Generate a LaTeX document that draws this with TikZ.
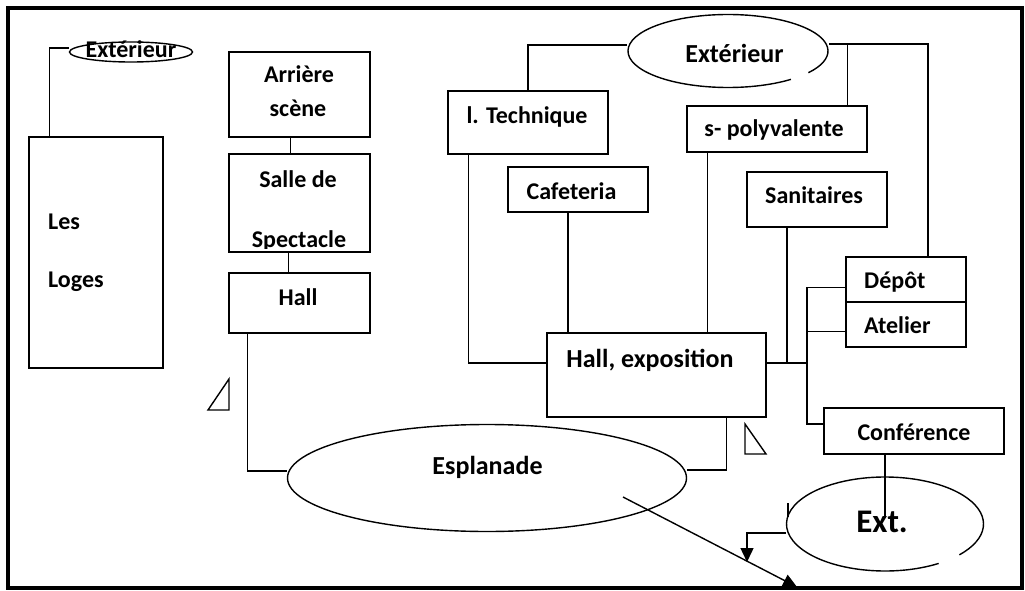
\documentclass[tikz,border=0pt]{standalone}
\usepackage{fontspec}
\setmainfont{Carlito}
\usetikzlibrary{arrows.meta,shapes.geometric}

\tikzset{
	room/.style={draw, rectangle, line width=1.4pt, inner sep=0pt},
	oval/.style={ellipse, line width=1.4pt, inner sep=0pt},
	link/.style={line width=1.4pt},
	lbl/.style={font=\fontsize{24}{28}\selectfont\bfseries, inner sep=0pt, anchor=base},
	lblmid/.style={lbl, font=\fontsize{26}{30}\selectfont\bfseries},
	lblbig/.style={lbl, font=\fontsize{33}{38}\selectfont\bfseries},
	tip/.style={-{Triangle[length=14pt,width=13pt]}}
}

\begin{document}
\begin{tikzpicture}[x=1pt,y=-1pt]
	\useasboundingbox (0,0) rectangle (1025,591);
	\fill[white] (0,0) rectangle (1025,591);
	% cadre
	\draw[line width=4.5pt] (8,8) rectangle (1022,588);
	
	% partie gauche
	\node[oval, draw, minimum width=123pt, minimum height=20pt] (extA) at (131,52) {};
	\node[room, minimum width=134pt, minimum height=231pt] (loges) at (96,252.5) {};
	\node[room, minimum width=141pt, minimum height=85pt] (arriere) at (299.5,94.5) {};
	\node[room, minimum width=141pt, minimum height=98pt] (salle) at (299.5,203) {};
	\node[room, minimum width=141pt, minimum height=60pt] (hallA) at (299.5,303) {};
	
	% partie droite
	\node[oval, minimum width=201pt, minimum height=73pt] (extB) at (728,51) {};
	\node[room, minimum width=160pt, minimum height=63pt] (ltech) at (528,122.5) {};
	\node[room, minimum width=140pt, minimum height=45pt] (cafe) at (578,189.5) {};
	\node[room, minimum width=180pt, minimum height=46pt] (spoly) at (777,129) {};
	\node[room, minimum width=140pt, minimum height=55pt] (sanit) at (817,199.5) {};
	\node[room, minimum width=120pt, minimum height=45pt] (depot) at (906,279.5) {};
	\node[room, minimum width=120pt, minimum height=45pt] (atelier) at (906,324.5) {};
	\node[room, minimum width=219pt, minimum height=84pt] (hallE) at (656.5,375) {};
	\node[room, minimum width=180pt, minimum height=46pt] (conf) at (914,431) {};
	\node[oval, draw, minimum width=399pt, minimum height=107pt] (espl) at (487,478) {};
	\node[oval, minimum width=197pt, minimum height=94pt] (ext) at (885,524) {};
	
	% ellipses ouvertes
	\draw[link] ([shift={(51:100 and 36.5)}]extB.center) arc[start angle=51, end angle=396.5, x radius=100, y radius=36.5];
	\draw[link] ([shift={(57:98.5 and 47)}]ext.center) arc[start angle=57, end angle=401, x radius=98.5, y radius=47];
	
	% textes
	\node[lbl] at (131,58) {Extérieur};
	\node[lbl, anchor=base west] at (48,229) {Les};
	\node[lbl, anchor=base west] at (48,287) {Loges};
	\node[lbl] at (299,83) {Arrière};
	\node[lbl] at (298,117) {scène};
	\node[lbl] at (298,187) {Salle de};
	\begin{scope}
		\clip ([yshift=4.5pt]salle.south west) rectangle (salle.north east);
		\node[lbl] at (299,247) {Spectacle};
	\end{scope}
	\node[lbl] at (298,305) {Hall};
	\node[lblmid] at (734.5,63) {Extérieur};
	\node[lbl] at (527,124) {l. Technique};
	\node[lbl] at (571.5,199) {Cafeteria};
	\node[lbl] at (774,137) {s- polyvalente};
	\node[lbl] at (814,203) {Sanitaires};
	\node[lbl, anchor=base west] at (864,288) {Dépôt};
	\node[lbl, anchor=base west] at (864,333) {Atelier};
	\node[lblmid] at (650,367) {Hall, exposition};
	\node[lbl] at (914,440) {Conférence};
	\node[lblmid] at (487.5,474) {Esplanade};
	\node[lblbig] at (882,532) {Ext.};
	
	% liaisons
	\coordinate (bus) at (807,363);
	\coordinate (extArr) at (747,562);
	\coordinate (diagA) at (623,497);
	\coordinate (diagB) at (797,587);
	
	\draw[link] ([yshift=4pt]extA.west) -| ([xshift=21pt]loges.north west);
	\draw[link] ([xshift=-9pt]arriere.south) -- ([xshift=-9pt]salle.north);
	\draw[link] ([xshift=-11pt]salle.south) -- ([xshift=-11pt]hallA.north);
	\draw[link] ([xshift=19pt]hallA.south west) |- ([yshift=7pt]espl.west);
	\draw[link] ([xshift=-40pt]hallE.south east) |- ([yshift=8pt]espl.east);
	\draw[link] ([xshift=21pt]ltech.south west) |- ([yshift=12pt]hallE.west);
	\draw[link] ([yshift=6pt]extB.west) -| (ltech.north);
	\draw[link] ([xshift=-10pt]cafe.south) -- ([xshift=-10pt]cafe.south |- hallE.north);
	\draw[link] ([xshift=21pt]spoly.south west) -- ([xshift=21pt]spoly.south west |- hallE.north);
	\draw[link] ([yshift=7pt]extB.east) -| ([xshift=22pt]depot.north);
	\draw[link] ([xshift=-20pt]spoly.north east) |- ([yshift=7pt]extB.east);
	\draw[link] ([xshift=-30pt]sanit.south) -- ([xshift=-30pt]sanit.south |- bus);
	\draw[link] ([yshift=12pt]hallE.east) -- (bus);
	\draw[link] ([yshift=-8pt]depot.west) -| (bus) |- ([yshift=7pt]conf.west);
	\draw[link] ([yshift=-7pt]atelier.west) -- ([yshift=-7pt]atelier.west -| bus);
	\draw[link] ([xshift=-29pt]conf.south) -- ([yshift=6pt]ext.center);
	\draw[link, tip] ([yshift=-9pt]ext.west) -| (extArr);
	\draw[link, tip] (diagA) -- (diagB);
	\draw[link] (788,503) -- (788,517);
	
	% triangles
	\draw[link] (208,410) -- (229,410) -- (229,379) -- cycle;
	\draw[link] (745,424) -- (745,454) -- (766,454) -- cycle;
\end{tikzpicture}
\end{document}
